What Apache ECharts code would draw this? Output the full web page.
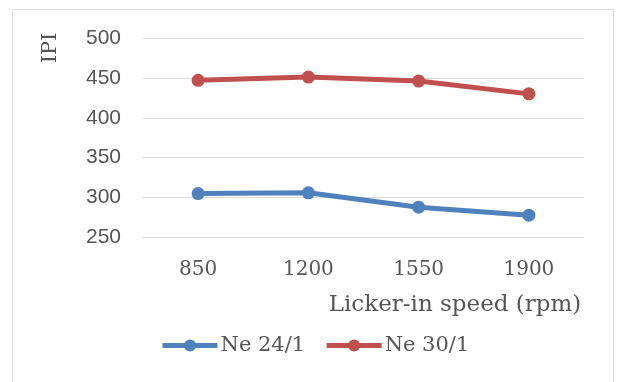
<!DOCTYPE html>
<html>
<head>
<meta charset="utf-8">
<script src="https://cdn.jsdelivr.net/npm/echarts@6/dist/echarts.min.js"></script>
<style>
  html, body { margin: 0; padding: 0; background: #ffffff; }
  #chart { width: 620px; height: 382px; }
</style>
</head>
<body>
<div id="chart"></div>
<script>
// Licker-in speed settings (rpm)
const speeds = ['850', '1200', '1550', '1900'];
// IPI values for each yarn count
const ne24 = [305, 306, 288, 278];
const ne30 = [447, 451, 446, 430];
const seriesNames = ['Ne 24/1', 'Ne 30/1'];
const yTicks = { min: 250, max: 500, step: 50 };

const serif = 'DejaVu Serif';
const sans = 'Liberation Sans';
const grey = '#555555';

const chart = echarts.init(document.getElementById('chart'), null, { renderer: 'canvas' });

chart.setOption({
  animation: false,
  backgroundColor: '#ffffff',
  color: ['#4F81BD', '#C0504D'],
  grid: { left: 143, right: 36, top: 38, bottom: 144.5 },
  xAxis: {
    type: 'category',
    data: speeds,
    boundaryGap: true,
    axisLine: { show: false },
    axisTick: { show: false },
    axisLabel: { color: grey, fontFamily: serif, fontSize: 20, margin: 22 }
  },
  yAxis: {
    type: 'value',
    min: yTicks.min,
    max: yTicks.max,
    interval: yTicks.step,
    axisLine: { show: false },
    axisTick: { show: false },
    splitLine: { lineStyle: { color: '#d9d9d9', width: 1 } },
    axisLabel: { color: grey, fontFamily: sans, fontSize: 21, margin: 22 }
  },
  legend: {
    data: seriesNames,
    left: 155,
    top: 330,
    itemWidth: 55,
    itemHeight: 15,
    itemGap: 19,
    lineStyle: { width: 5 },
    textStyle: { color: grey, fontFamily: serif, fontSize: 21, padding: [0, 0, 0, -2] }
  },
  graphic: [
    {
      type: 'rect',
      silent: true,
      shape: { x: 12.5, y: 9.5, width: 601, height: 400 },
      style: { fill: 'none', stroke: '#d9d9d9', lineWidth: 1 }
    },
    {
      type: 'text',
      silent: true,
      x: 51, y: 48,
      rotation: Math.PI / 2,
      style: {
        text: 'IPI', fill: grey, font: '21px "' + serif + '"',
        textAlign: 'center', textVerticalAlign: 'middle'
      }
    },
    {
      type: 'text',
      silent: true,
      x: 455, y: 305,
      style: {
        text: 'Licker-in speed (rpm)', fill: grey, font: '23px "' + serif + '"',
        textAlign: 'center', textVerticalAlign: 'middle'
      }
    }
  ],
  series: [
    {
      name: seriesNames[0], type: 'line', data: ne24,
      symbol: 'circle', symbolSize: 13,
      lineStyle: { width: 5 }
    },
    {
      name: seriesNames[1], type: 'line', data: ne30,
      symbol: 'circle', symbolSize: 13,
      lineStyle: { width: 5 }
    }
  ]
});
</script>
</body>
</html>
